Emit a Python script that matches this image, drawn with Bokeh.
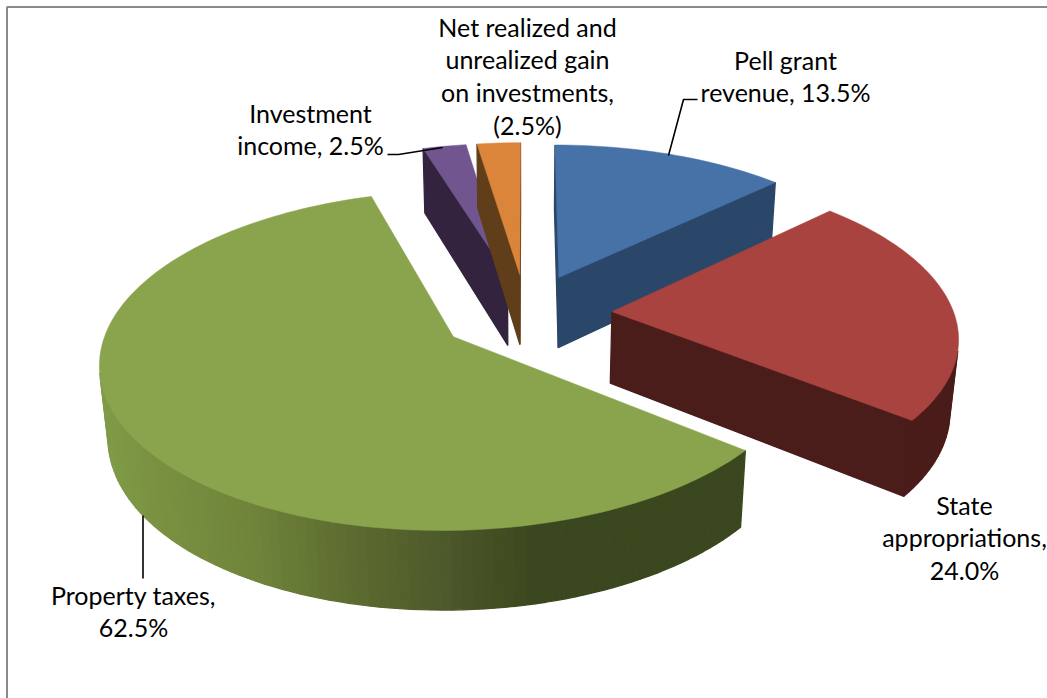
import numpy as np
from bokeh.core.properties import value
from bokeh.embed import file_html
from bokeh.models import Range1d
from bokeh.plotting import figure
from bokeh.resources import INLINE

# Revenue shares, clockwise from twelve o'clock
categories = ["Pell grant revenue", "State appropriations", "Property taxes",
              "Investment income", "Net realized and unrealized gain on investments"]
shares = [13.5, 24.0, 62.5, 2.5, -2.5]
top_colors = ["#4772A8", "#A8433F", "#8AA44E", "#70558F", "#DB853B"]
side_colors = ["#2A4769", "#4A1C1A", "#3B4A1E", "#33233F", "#5F3E19"]

# Wrapped label text, one entry per slice
label_lines = [
    ["Pell grant", "revenue, {}"],
    ["State", "appropriations,", "{}"],
    ["Property taxes,", "{}"],
    ["Investment", "income, {}"],
    ["Net realized and", "unrealized gain", "on investments,", "{}"],
]
label_centres = [(785, 59), (964, 504), (133, 594), (310, 112), (527, 26)]
LINE_STEP = 32.7

leaders = [
    ([697, 683, 668], [99, 99, 155]),
    ([387, 398, 442], [154, 154, 147]),
    ([142.5, 142.5], [515, 578]),
]

# Colour ramp across the outer wall of the large slice
ramp_x = [99, 150, 250, 330, 450, 530, 748]
ramp_r = [0x80, 0x7A, 0x70, 0x60, 0x4C, 0x3C, 0x3B]
ramp_g = [0x9C, 0x92, 0x85, 0x70, 0x58, 0x48, 0x47]
ramp_b = [0x48, 0x42, 0x3B, 0x32, 0x2A, 0x1E, 0x1E]

# Camera and disc parameters
CX, CY = 525.5, 313.0
SCALE, SQUASH = 342.0, 0.468
PERSP, DEPTH_PERSP = 0.138, 0.02
THICK = 73.0
EXPLODE = 0.252


def project(x, y, z=0.0):
    w = 1.0 / (1.0 + PERSP * y + DEPTH_PERSP * z)
    return CX + SCALE * x * w, CY - SCALE * SQUASH * y * w + THICK * z * w


def signed_area(poly):
    xs, ys = zip(*poly)
    return 0.5 * sum(xs[i] * ys[(i + 1) % len(xs)] - xs[(i + 1) % len(xs)] * ys[i]
                     for i in range(len(xs)))


magnitudes = np.abs(shares)
edges = np.concatenate([[0.0], np.cumsum(magnitudes)]) / magnitudes.sum() * 2 * np.pi

p = figure(width=1047, height=698, output_backend="svg", toolbar_location=None,
           x_range=Range1d(0, 1047), y_range=Range1d(698, 0),
           min_border=0, outline_line_color=None, border_fill_color="white",
           background_fill_color="white")
p.axis.visible = False
p.grid.visible = False

# Chart-area frame along the top and left
p.line([6.5, 6.5, 1047], [698, 6.5, 6.5], line_color="#8A8A8A", line_width=2)

for i in [3, 4, 0, 2, 1]:
    a0, a1 = edges[i], edges[i + 1]
    mid = (a0 + a1) / 2
    ox, oy = EXPLODE * np.sin(mid), EXPLODE * np.cos(mid)
    angles = np.linspace(a0, a1, max(3, int((a1 - a0) / np.radians(1.5))))
    rx, ry = ox + np.sin(angles), oy + np.cos(angles)

    xs, ys, fills = [], [], []
    # Outer wall as thin vertical strips
    for j in range(len(angles) - 1):
        quad = [project(rx[j], ry[j]), project(rx[j + 1], ry[j + 1]),
                project(rx[j + 1], ry[j + 1], 1), project(rx[j], ry[j], 1)]
        if signed_area(quad) < 0:
            xs.append([q[0] for q in quad])
            ys.append([q[1] for q in quad])
            if i == 2:
                sx = (quad[0][0] + quad[1][0]) / 2
                fills.append("#%02X%02X%02X" % (int(np.interp(sx, ramp_x, ramp_r)),
                                                int(np.interp(sx, ramp_x, ramp_g)),
                                                int(np.interp(sx, ramp_x, ramp_b))))
            else:
                fills.append(side_colors[i])
    # Radial cut faces, kept only when they look toward the viewer
    for quad in (
        [project(ox, oy), project(rx[0], ry[0]), project(rx[0], ry[0], 1), project(ox, oy, 1)],
        [project(rx[-1], ry[-1]), project(ox, oy), project(ox, oy, 1), project(rx[-1], ry[-1], 1)],
    ):
        if signed_area(quad) < 0:
            xs.append([q[0] for q in quad])
            ys.append([q[1] for q in quad])
            fills.append(side_colors[i])
    if xs:
        p.patches(xs, ys, fill_color=fills, line_color=fills, line_width=1.3)

    # Top face
    tx, ty = project(np.concatenate([[ox], rx]), np.concatenate([[oy], ry]))
    p.patch(tx, ty, fill_color=top_colors[i], line_color=top_colors[i], line_width=0.5)

for lx, ly in leaders:
    p.line(lx, ly, line_color="black", line_width=1.6)

for share, lines, (cx, cy) in zip(shares, label_lines, label_centres):
    pct = f"{share:.1f}%" if share >= 0 else f"({-share:.1f}%)"
    rows = [t.format(pct) for t in lines]
    p.text([cx] * len(rows), [cy + k * LINE_STEP for k in range(len(rows))], text=rows,
           text_font=value("Lato"), text_font_size="25px", text_color="black",
           text_align="center", text_baseline="middle")

open("out.html", "w").write(file_html(p, INLINE))
